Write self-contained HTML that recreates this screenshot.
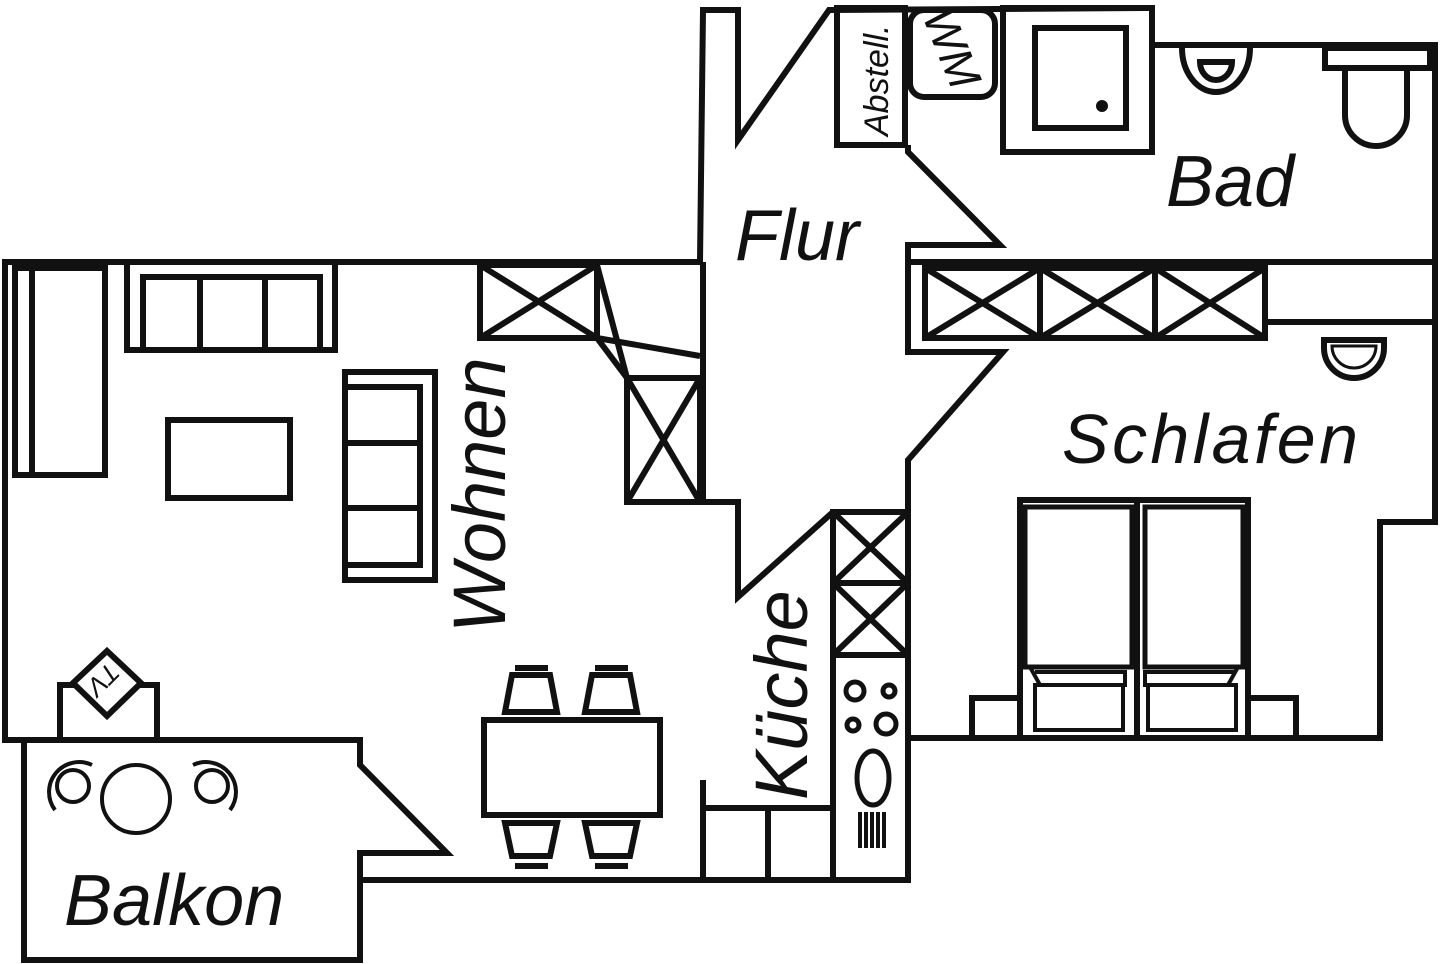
<!DOCTYPE html>
<html><head><meta charset="utf-8"><style>
html,body{margin:0;padding:0;background:#fff;}
svg{display:block}
text{font-family:"Liberation Sans",Arial,sans-serif;font-style:italic;fill:#111;}
</style></head><body>
<svg width="1440" height="964" viewBox="0 0 1440 964" xmlns="http://www.w3.org/2000/svg">
<g fill="none" stroke="#111" stroke-width="6" stroke-linejoin="miter">
<polyline points="700,262 5,262 5,740 24,740"/>
<polyline points="700,262 703,10 738,10 738,140 829,10 1152,8 1152,45 1435,45 1435,522 1380,522 1380,738 908,738"/>
<polyline points="703,262 703,502 738,502 738,597 833,512"/>
<polygon points="24,740 360,740 360,765 447,853 360,853 360,960 24,960"/>
<polyline points="360,880 908,880 908,460 1003,352 908,352 908,262 1435,262"/>
<polyline points="908,145 908,152 1000,245 908,245 908,262"/>
<line x1="1265" y1="322" x2="1435" y2="322"/>
<rect x="15" y="268" width="90" height="207"/>
<line x1="32" y1="268" x2="32" y2="475"/>
<rect x="127" y="262" width="208" height="88"/>
<rect x="143" y="277" width="177" height="73"/>
<line x1="200" y1="277" x2="200" y2="350"/><line x1="265" y1="277" x2="265" y2="350"/>
<rect x="168" y="420" width="122" height="78"/>
<rect x="345" y="372" width="90" height="208"/>
<rect x="345" y="387" width="75" height="178"/>
<line x1="345" y1="443" x2="420" y2="443"/><line x1="345" y1="508" x2="420" y2="508"/>
<rect x="480" y="265" width="117" height="73"/>
<line x1="480" y1="265" x2="597" y2="338"/><line x1="597" y1="265" x2="480" y2="338"/>
<line x1="597" y1="265" x2="627" y2="378"/>
<line x1="597" y1="338" x2="700" y2="356"/>
<line x1="597" y1="338" x2="627" y2="378"/>
<rect x="627" y="378" width="73" height="124"/>
<line x1="627" y1="378" x2="700" y2="502"/><line x1="700" y1="378" x2="627" y2="502"/>
<polyline points="60,740 60,685 75,685"/><polyline points="140,685 157,685 157,740"/>
<polygon points="107,651 141,683 107,716 73,683"/>
<rect x="484" y="720" width="176" height="95"/>
<line x1="515" y1="668" x2="548" y2="668"/><line x1="595" y1="668" x2="628" y2="668"/>
<polygon points="512,675 550,675 557,712 505,712"/>
<polygon points="592,675 630,675 637,712 585,712"/>
<polygon points="505,823 557,823 550,856 512,856"/>
<polygon points="585,823 637,823 630,856 592,856"/>
<line x1="515" y1="866" x2="548" y2="866"/><line x1="595" y1="866" x2="628" y2="866"/>
<polyline points="703,780 703,880"/><line x1="703" y1="808" x2="833" y2="808"/><line x1="768" y1="808" x2="768" y2="880"/>
<rect x="833" y="512" width="75" height="368"/>
<line x1="833" y1="583" x2="908" y2="583"/><line x1="833" y1="655" x2="908" y2="655"/>
<line x1="833" y1="512" x2="908" y2="583"/><line x1="908" y1="512" x2="833" y2="583"/>
<line x1="833" y1="583" x2="908" y2="655"/><line x1="908" y1="583" x2="833" y2="655"/>
<circle cx="855" cy="691" r="9" stroke-width="5"/><circle cx="889" cy="691" r="6" stroke-width="5"/>
<circle cx="853" cy="725" r="6" stroke-width="5"/><circle cx="886" cy="724" r="10" stroke-width="5"/>
<ellipse cx="873" cy="778" rx="16" ry="27" stroke-width="5"/>
<rect x="837" y="8" width="68" height="137"/>
<rect x="910" y="10" width="85" height="87" rx="14"/>
<rect x="1003" y="8" width="149" height="144"/>
<rect x="1035" y="28" width="91" height="100"/>
<path d="M1182,48 A34,44 0 0 0 1250,48"/>
<path d="M1200,62 L1232,62 A16,18 0 0 1 1200,62 Z"/>
<rect x="1325" y="48" width="105" height="20"/>
<path d="M1345,68 L1345,115 A31,31 0 0 0 1407,115 L1407,68"/>
<rect x="925" y="268" width="340" height="70"/>
<line x1="1040" y1="268" x2="1040" y2="338"/><line x1="1155" y1="268" x2="1155" y2="338"/>
<line x1="925" y1="268" x2="1040" y2="338"/><line x1="1040" y1="268" x2="925" y2="338"/>
<line x1="1040" y1="268" x2="1155" y2="338"/><line x1="1155" y1="268" x2="1040" y2="338"/>
<line x1="1155" y1="268" x2="1265" y2="338"/><line x1="1265" y1="268" x2="1155" y2="338"/>
<path d="M1324,340 L1384,340 L1384,348 A30,30 0 0 1 1324,348 Z"/>
<path d="M1332,346 L1376,346 A22,22 0 0 1 1332,346 Z" stroke-width="3"/>
<rect x="1020" y="500" width="228" height="238"/>
<line x1="1137" y1="500" x2="1137" y2="738"/>
<rect x="1025" y="507" width="107" height="160" stroke-width="5"/>
<rect x="1145" y="507" width="98" height="160" stroke-width="5"/>
<polyline points="1030,667 1040,685 1125,685 1125,672 1035,672" stroke-width="4"/>
<polyline points="1238,667 1228,685 1145,685 1145,672 1235,672" stroke-width="4"/>
<rect x="1035" y="685" width="88" height="45" stroke-width="4"/>
<rect x="1148" y="685" width="88" height="45" stroke-width="4"/>
<rect x="972" y="698" width="48" height="40"/>
<rect x="1248" y="698" width="48" height="40"/>
<circle cx="136" cy="799" r="34" stroke-width="4"/>
<circle cx="73" cy="786" r="16" stroke-width="4"/>
<circle cx="212" cy="786" r="16" stroke-width="4"/>
<path d="M55,810 A30,30 0 0 1 92,765" stroke-width="4"/>
<path d="M230,810 A30,30 0 0 0 193,765" stroke-width="4"/>
</g>
<circle cx="1102" cy="106" r="6" fill="#111"/>
<g fill="#111"><rect x="858" y="812" width="4" height="36"/><rect x="864" y="812" width="4" height="36"/><rect x="870" y="812" width="4" height="36"/><rect x="876" y="812" width="4" height="36"/><rect x="882" y="812" width="4" height="36"/></g>
<text x="735" y="260" font-size="72">Flur</text>
<text x="1166" y="206" font-size="72">Bad</text>
<text x="1062" y="463" font-size="70" textLength="296">Schlafen</text>
<text x="64" y="925" font-size="72">Balkon</text>
<text transform="translate(505,633) rotate(-90)" font-size="74">Wohnen</text>
<text transform="translate(807,800) rotate(-90)" font-size="74">Küche</text>
<text transform="translate(888,136) rotate(-90)" font-size="34">Abstell.</text>
<text transform="translate(922,16) rotate(68)" font-size="46" font-style="normal">WM</text>
<text transform="translate(97,673) rotate(135)" font-size="26" font-style="normal" text-anchor="middle">TV</text>
</svg>
</body></html>
